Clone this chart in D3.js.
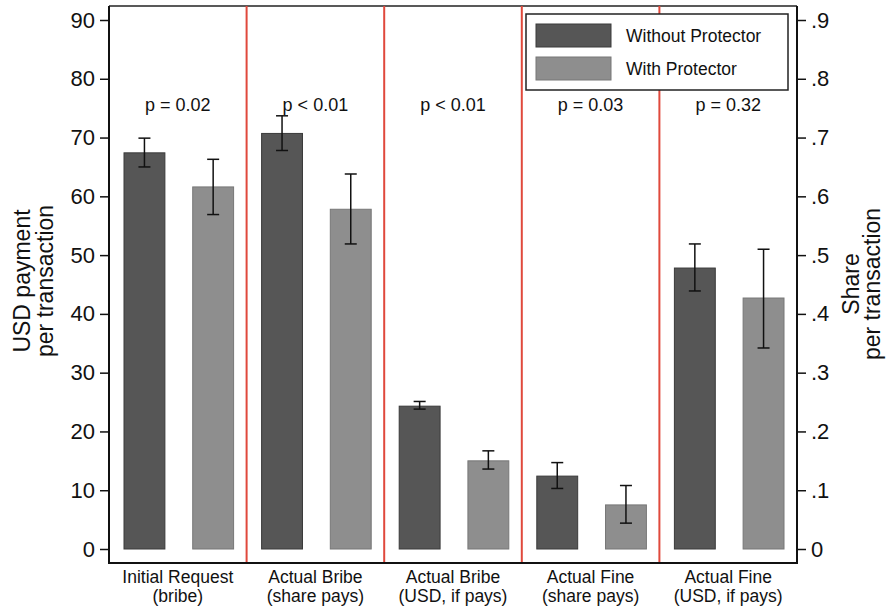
<!DOCTYPE html>
<html>
<head>
<meta charset="utf-8">
<script src="https://d3js.org/d3.v7.min.js"></script>
<style>
  body { margin: 0; background: #fff; }
  text { font-family: "Liberation Sans", Arial, Helvetica, sans-serif; fill: #111; }
</style>
</head>
<body>
<div id="chart"></div>
<script>
// categories (two-line labels) and p-values
var categories = [["Initial Request", "(bribe)"], ["Actual Bribe", "(share pays)"], ["Actual Bribe", "(USD, if pays)"], ["Actual Fine", "(share pays)"], ["Actual Fine", "(USD, if pays)"]];
var pLabels = ["p = 0.02", "p < 0.01", "p < 0.01", "p = 0.03", "p = 0.32"];
var groups = ["Without Protector", "With Protector"];

// values on the left (USD) scale; share panels are read as share x 100
var withoutVals = [67.4, 70.7, 24.3, 12.4, 47.8];
var withoutLow  = [65.0, 67.8, 23.8, 10.3, 43.9];
var withoutHigh = [69.9, 73.7, 25.1, 14.7, 51.9];
var withVals    = [61.6, 57.8, 15.0, 7.5, 42.7];
var withLow     = [56.9, 51.9, 13.6, 4.4, 34.2];
var withHigh    = [66.3, 63.8, 16.7, 10.8, 51.0];

var leftTicks = [0, 10, 20, 30, 40, 50, 60, 70, 80, 90];
var rightTicks = [0, .1, .2, .3, .4, .5, .6, .7, .8, .9];

var W = 888, H = 610;
var plotL = 109, plotR = 797, plotT = 6, plotB = 563;

var svg = d3.select("#chart").append("svg")
    .attr("width", W).attr("height", H);

var x = d3.scaleBand().domain(d3.range(categories.length)).range([plotL, plotR]);
var xInner = d3.scaleBand().domain([0, 1]).range([15, x.bandwidth() - 13]).paddingInner(0.405);
var y = d3.scaleLinear().domain([0, 90]).range([549, 20]);
var y2 = d3.scaleLinear().domain([0, .9]).range([549, 20]);

var colors = ["#565656", "#8e8e8e"];
var strokes = ["#3a3a3a", "#777"];

// frame (top line)
svg.append("line").attr("x1", plotL).attr("x2", plotR).attr("y1", plotT).attr("y2", plotT)
    .attr("stroke", "#222").attr("stroke-width", 1.5);

// red separators
svg.selectAll(".sep").data(d3.range(1, categories.length)).enter().append("line")
    .attr("x1", function (d) { return x(d); }).attr("x2", function (d) { return x(d); })
    .attr("y1", plotT).attr("y2", plotB)
    .attr("stroke", "#e0493c").attr("stroke-width", 2);

var series = [
  { vals: withoutVals, lo: withoutLow, hi: withoutHigh },
  { vals: withVals, lo: withLow, hi: withHigh }
];

series.forEach(function (s, gi) {
  var g = svg.append("g");
  g.selectAll("rect").data(s.vals).enter().append("rect")
    .attr("x", function (d, i) { return x(i) + xInner(gi); })
    .attr("width", xInner.bandwidth())
    .attr("y", function (d) { return y(d); })
    .attr("height", function (d) { return y(0) - y(d); })
    .attr("fill", colors[gi]).attr("stroke", strokes[gi]).attr("stroke-width", 1);

  s.vals.forEach(function (d, i) {
    var cx = x(i) + xInner(gi) + xInner.bandwidth() / 2;
    g.append("line").attr("x1", cx).attr("x2", cx)
      .attr("y1", y(s.lo[i])).attr("y2", y(s.hi[i]))
      .attr("stroke", "#111").attr("stroke-width", 1.5);
    [s.lo[i], s.hi[i]].forEach(function (v) {
      g.append("line").attr("x1", cx - 6).attr("x2", cx + 6)
        .attr("y1", y(v)).attr("y2", y(v))
        .attr("stroke", "#111").attr("stroke-width", 1.5);
    });
  });
});

// p-values
svg.selectAll(".pval").data(pLabels).enter().append("text")
  .attr("x", function (d, i) { return x(i) + x.bandwidth() / 2; })
  .attr("y", 111)
  .attr("text-anchor", "middle")
  .style("font-size", "18px")
  .text(function (d) { return d; });

// left axis
var yAxis = d3.axisLeft(y).tickValues(leftTicks).tickSize(9).tickPadding(5);
var ga = svg.append("g").attr("transform", "translate(" + plotL + ",0)").call(yAxis);
ga.select(".domain").attr("d", "M0," + plotT + "V" + plotB).attr("stroke", "#111").attr("stroke-width", 2);
ga.selectAll(".tick line").attr("stroke", "#111").attr("stroke-width", 1.5);
ga.selectAll(".tick text").style("font-size", "22px").attr("fill", "#111");

// right axis
var yAxis2 = d3.axisRight(y2).tickValues(rightTicks).tickSize(9).tickPadding(5)
  .tickFormat(function (d) { return d === 0 ? "0" : d3.format(".1f")(d).replace(/^0/, ""); });
var gb = svg.append("g").attr("transform", "translate(" + plotR + ",0)").call(yAxis2);
gb.select(".domain").attr("d", "M0," + plotT + "V" + plotB).attr("stroke", "#111").attr("stroke-width", 2);
gb.selectAll(".tick line").attr("stroke", "#111").attr("stroke-width", 1.5);
gb.selectAll(".tick text").style("font-size", "22px").attr("fill", "#111");

// bottom axis line
svg.append("line").attr("x1", plotL - 1).attr("x2", plotR + 1).attr("y1", plotB).attr("y2", plotB)
  .attr("stroke", "#111").attr("stroke-width", 2);

// category labels
categories.forEach(function (c, i) {
  var cx = x(i) + x.bandwidth() / 2;
  var t = svg.append("text")
    .attr("x", cx).attr("y", 583)
    .attr("text-anchor", "middle").style("font-size", "17.5px");
  t.append("tspan").attr("x", cx).attr("dy", 0).text(c[0]);
  t.append("tspan").attr("x", cx).attr("dy", 19).text(c[1]);
});

// axis titles
var lt = svg.append("text").attr("transform", "translate(30,281) rotate(-90)")
  .attr("text-anchor", "middle").style("font-size", "23px");
lt.append("tspan").attr("x", 0).attr("dy", 0).text("USD payment");
lt.append("tspan").attr("x", 0).attr("dy", 23).text("per transaction");

var rt = svg.append("text").attr("transform", "translate(859,284) rotate(-90)")
  .attr("text-anchor", "middle").style("font-size", "23px");
rt.append("tspan").attr("x", 0).attr("dy", 0).text("Share");
rt.append("tspan").attr("x", 0).attr("dy", 21).text("per transaction");

// legend
var lg = svg.append("g");
lg.append("rect").attr("x", 526).attr("y", 14).attr("width", 262).attr("height", 76)
  .attr("fill", "#fff").attr("stroke", "#222").attr("stroke-width", 1.5);
groups.forEach(function (gname, i) {
  lg.append("rect").attr("x", 536).attr("y", 24 + i * 33).attr("width", 75).attr("height", 23)
    .attr("fill", colors[i]).attr("stroke", strokes[i]);
  lg.append("text").attr("x", 626).attr("y", 42 + i * 33).style("font-size", "17.5px").text(gname);
});
</script>
</body>
</html>
